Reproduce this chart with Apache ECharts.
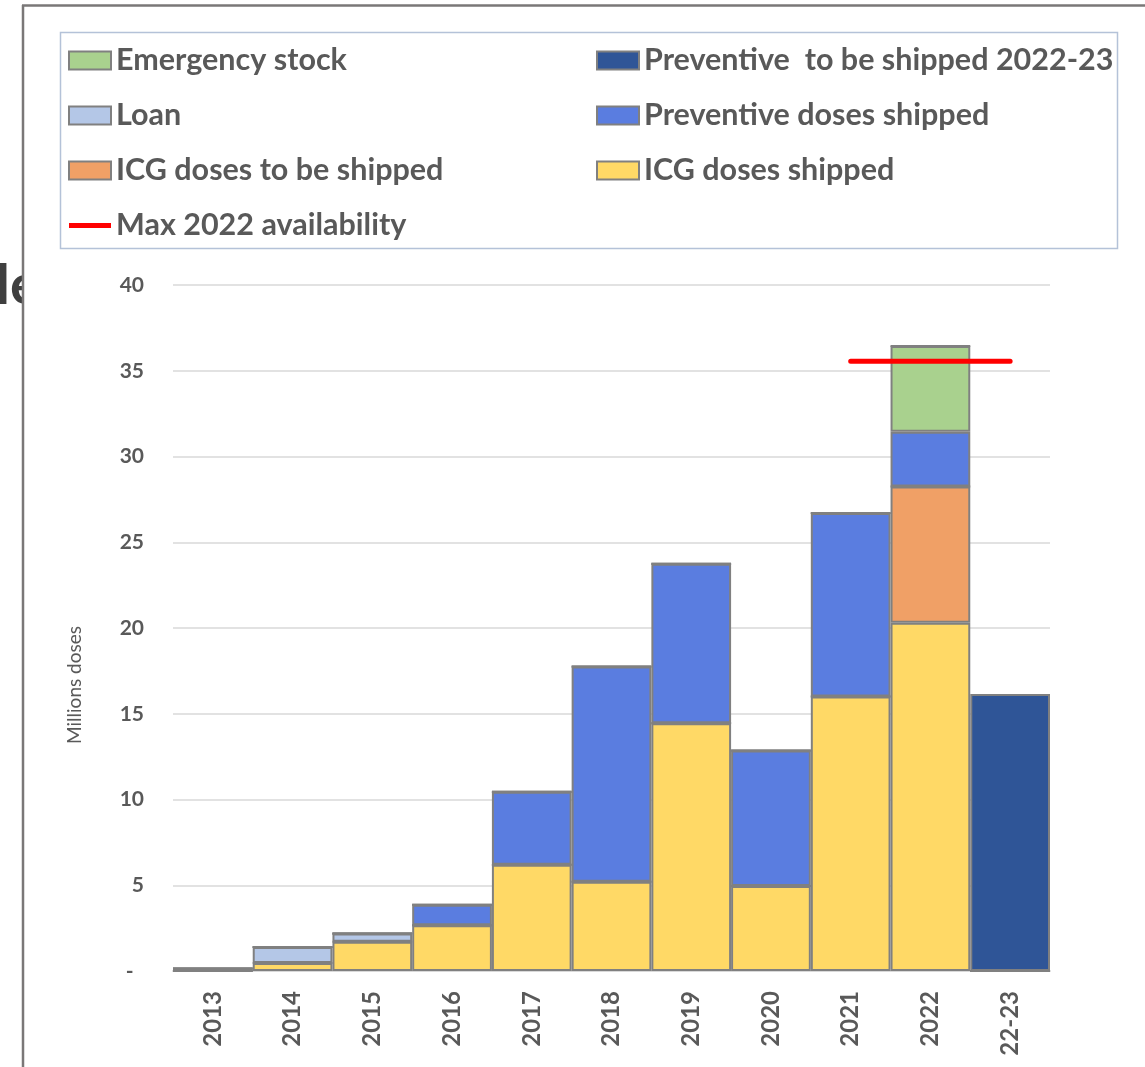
<!DOCTYPE html>
<html>
<head>
<meta charset="utf-8">
<script src="https://cdn.jsdelivr.net/npm/echarts@6/dist/echarts.min.js"></script>
<style>
html,body{margin:0;padding:0;background:#fff;}
#chart{width:1145px;height:1067px;}
</style>
</head>
<body>
<div id="chart"></div>
<script>
const categories = ['2013','2014','2015','2016','2017','2018','2019','2020','2021','2022','22-23'];
const icgShipped    = [0, 0.47, 1.7, 2.67, 6.2, 5.2, 14.45, 4.95, 16.0, 20.3, 0];
const icgToBeShipped= [0, 0, 0, 0, 0, 0, 0, 0, 0, 7.95, 0];
const loan          = [0.15, 0.93, 0.48, 0, 0, 0, 0, 0, 0, 0, 0];
const prevShipped   = [0, 0, 0, 1.2, 4.25, 12.55, 9.3, 7.9, 10.7, 3.2, 0];
const emergencyStock= [0, 0, 0, 0, 0, 0, 0, 0, 0, 5.0, 0];
const prevToBeShipped=[0, 0, 0, 0, 0, 0, 0, 0, 0, 0, 16.15];
const maxAvailability=[null, null, null, null, null, null, null, null, 35.55, 35.55, 35.55];
const yTicks = [0, 5, 10, 15, 20, 25, 30, 35, 40];

const FONT = 'Lato';
const TXT = '#595959';
const BORDER = '#808080';

function bar(name, data, color) {
  return {
    name: name, type: 'bar', stack: 'total', data: data,
    barCategoryGap: 0, barGap: 0,
    itemStyle: { color: color, borderColor: BORDER, borderWidth: 2 },
    emphasis: { disabled: true }
  };
}

const chart = echarts.init(document.getElementById('chart'), null, { renderer: 'canvas' });
const legendText = { color: TXT, fontFamily: FONT, fontWeight: 'bold', fontSize: 30.5, lineHeight: 30 };
const lineIcon = 'path://M0,0h42v5h-42z';
chart.setOption({
  animation: false,
  backgroundColor: '#fff',
  grid: { left: 173, right: 95, top: 285, bottom: 96, containLabel: false },
  legend: [
    { left: 68, top: 45, padding: 0, orient: 'vertical', itemWidth: 42, itemHeight: 18, itemGap: 24,
      icon: 'rect', textStyle: legendText, selectedMode: false,
      data: ['Emergency stock', 'Loan', 'ICG doses to be shipped',
        { name: 'Max 2022 availability', icon: lineIcon, itemStyle: { color: '#FF0000', borderWidth: 0 } }] },
    { left: 596, top: 45, padding: 0, orient: 'vertical', itemWidth: 42, itemHeight: 18, itemGap: 24,
      icon: 'rect', textStyle: legendText, selectedMode: false,
      data: ['Preventive  to be shipped 2022-23', 'Preventive doses shipped', 'ICG doses shipped'] }
  ],
  xAxis: {
    type: 'category', data: categories,
    axisLine: { lineStyle: { color: '#d9d9d9', width: 2 } },
    axisTick: { show: false },
    axisLabel: { rotate: 90, interval: 0, margin: 20, color: TXT, fontFamily: FONT, fontWeight: 'bold', fontSize: 24 }
  },
  yAxis: {
    type: 'value', min: 0, max: 40, interval: 5,
    axisLine: { show: false }, axisTick: { show: false },
    axisLabel: { margin: 29, color: TXT, fontFamily: FONT, fontWeight: 'bold', fontSize: 21,
      formatter: function (v) { return yTicks.indexOf(v) === 0 ? '-\u2002' : String(v); } },
    splitLine: { lineStyle: { color: '#d9d9d9', width: 1.5 } }
  },
  series: [
    bar('ICG doses shipped', icgShipped, '#FFD966'),
    bar('ICG doses to be shipped', icgToBeShipped, '#F0A066'),
    bar('Loan', loan, '#B4C7E7'),
    bar('Preventive doses shipped', prevShipped, '#5A7DE0'),
    bar('Emergency stock', emergencyStock, '#A9D18E'),
    bar('Preventive  to be shipped 2022-23', prevToBeShipped, '#2F5597'),
    { name: 'Max 2022 availability', type: 'line', data: maxAvailability, symbol: 'none',
      lineStyle: { color: '#FF0000', width: 5, cap: 'round' }, itemStyle: { color: '#FF0000' },
      emphasis: { disabled: true }, z: 5 }
  ],
  graphic: [
    { type: 'text', left: -4, top: 258, z: 1,
      style: { text: 'le', fill: '#3f3f3f', font: 'bold 56px Lato' } },
    { type: 'rect', shape: { x: 24, y: 250, width: 34, height: 70 }, style: { fill: '#fff' }, z: 2 },
    { type: 'line', shape: { x1: 22, y1: 5.5, x2: 1145, y2: 5.5 }, style: { stroke: '#7a7777', lineWidth: 2.5 }, z: 3 },
    { type: 'line', shape: { x1: 23, y1: 5, x2: 23, y2: 1067 }, style: { stroke: '#7a7777', lineWidth: 2.5 }, z: 3 },
    { type: 'rect', shape: { x: 60.5, y: 32.5, width: 1057, height: 216 }, style: { fill: 'none', stroke: '#b4c2d8', lineWidth: 1.5 }, z: 3 },
    { type: 'text', x: 75, y: 685, rotation: Math.PI / 2, z: 3,
      style: { text: 'Millions doses', fill: TXT, font: '19px Lato', align: 'center', verticalAlign: 'middle' } }
  ]
});
</script>
</body>
</html>
